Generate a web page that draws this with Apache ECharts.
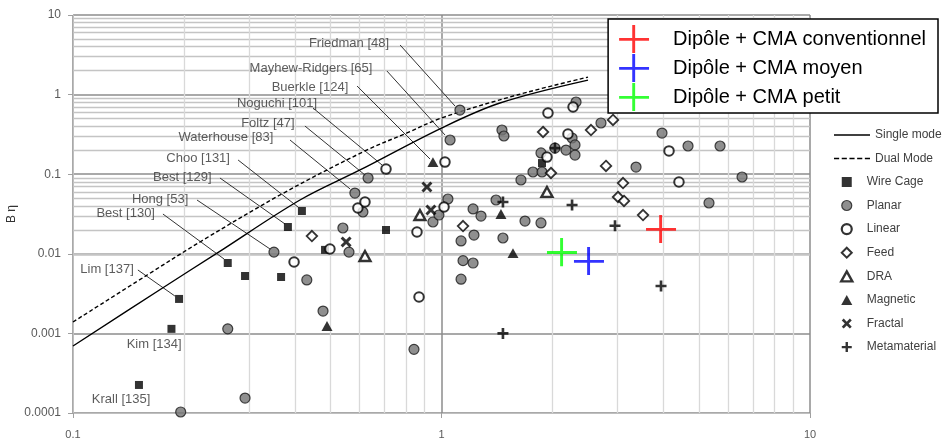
<!DOCTYPE html>
<html><head><meta charset="utf-8">
<script src="https://cdn.jsdelivr.net/npm/echarts@6/dist/echarts.min.js"></script>
<style>html,body{margin:0;padding:0;background:#fff}#c{width:946px;height:441px}</style>
</head><body><div id="c"></div>
<script>
// ---- data ----
const xRange = [0.1, 10];
const yRange = [0.0001, 10];
const minorXMultipliers = [2, 3, 4, 5, 6, 7, 8, 9];

const singleMode = [[0.1,0.000695],[0.175,0.00372],[0.246,0.0102],[0.413,0.0474],[0.601,0.113],[1.0,0.38],[1.441,0.784],[2.498,1.52]];
const dualMode = [[0.1,0.00139],[0.159,0.00542],[0.225,0.0148],[0.372,0.0577],[0.62,0.196],[0.806,0.33],[1.0,0.508],[1.603,0.989],[2.498,1.66]];

const wireCage = [[0.151,0.000225],[0.185,0.00114],[0.194,0.00271],[0.263,0.00766],[0.293,0.00526],[0.367,0.00511],[0.383,0.0217],[0.418,0.0345],[0.483,0.0112],[0.707,0.0199],[1.874,0.138]];
const planar = [[0.196,0.000103],[0.293,0.000154],[0.263,0.00114],[0.351,0.0105],[0.431,0.00469],[0.477,0.00191],[0.540,0.0211],[0.561,0.0105],[0.582,0.058],[0.612,0.0335],[0.632,0.0896],[0.842,0.00063],[0.948,0.0251],[0.984,0.0307],[1.041,0.0488],[1.055,0.269],[1.122,0.640],[1.13,0.0145],[1.225,0.0172],[1.144,0.0082],[1.218,0.00766],[1.13,0.0048],[1.218,0.0366],[1.28,0.0298],[1.406,0.0474],[1.468,0.0158],[1.459,0.359],[1.477,0.302],[1.685,0.0258],[1.862,0.0244],[1.643,0.0846],[1.771,0.1066],[1.874,0.1066],[1.862,0.185],[2.032,0.213],[2.177,0.201],[2.261,0.285],[2.303,0.233],[2.303,0.174],[2.318,0.807],[2.709,0.44],[3.372,0.123],[3.966,0.329],[4.667,0.226],[5.70,0.226],[6.54,0.0922],[5.32,0.0435]];
const linear = [[0.398,0.00789],[0.498,0.0115],[0.593,0.0376],[0.620,0.0447],[0.707,0.116],[0.858,0.0188],[0.869,0.00287],[1.016,0.0387],[1.022,0.142],[1.933,0.164],[1.945,0.587],[2.204,0.320],[2.275,0.699],[4.144,0.196],[4.41,0.0798]];
const feed = [[0.445,0.0167],[1.144,0.0223],[1.886,0.339],[1.982,0.1035],[2.545,0.359],[2.795,0.127],[2.92,0.48],[3.013,0.0517],[3.109,0.0775],[3.128,0.0461],[3.523,0.0307]];
const dra = [[0.620,0.00938],[0.874,0.0307],[1.933,0.0598]];
const magnetic = [[0.489,0.00124],[0.948,0.142],[1.45,0.0316],[1.563,0.0102]];
const fractal = [[0.551,0.0141],[0.913,0.0691],[0.936,0.0355]];
const metamaterial = [[1.468,0.001],[1.468,0.0447],[2.032,0.213],[2.261,0.041],[2.957,0.0225],[3.942,0.00394]];

const cmaConventionnel = [[3.942,0.0205]];
const cmaMoyen = [[2.513,0.00812]];
const cmaPetit = [[2.123,0.0105]];

// annotation text, label centre [x,y], leader line start, leader line end
const annotationNames = ['Friedman [48]','Mayhew-Ridgers [65]','Buerkle [124]','Noguchi [101]','Foltz [47]','Waterhouse [83]','Choo [131]','Best [129]','Hong [53]','Best [130]','Lim [137]','Kim [134]','Krall [135]'];
const annotationAt = [[0.561,4.45],[0.4425,2.16],[0.4396,1.246],[0.3578,0.784],[0.338,0.44],[0.260,0.293],[0.2186,0.16],[0.198,0.0922],[0.1723,0.0488],[0.139,0.0326],[0.1237,0.00644],[0.166,0.000736],[0.135,0.00015]];
const leaderFrom = [[0.772,4.2],[0.711,1.98],[0.590,1.282],[0.448,0.679],[0.426,0.403],[0.388,0.269],[0.2805,0.1508],[0.2505,0.0896],[0.217,0.0474],[0.1754,0.0316],[0.150,0.00626],null,null];
const leaderTo = [[1.088,0.719],[1.022,0.311],[0.931,0.155],[0.6896,0.1305],[0.620,0.0977],[0.565,0.0652],[0.408,0.0387],[0.376,0.0237],[0.3424,0.0115],[0.257,0.0086],[0.189,0.00295],null,null];

// ---- styling ----
const FONT = 'Liberation Sans';
const P_SQUARE = 'path://M0,0H10V10H0Z';
const P_DIAMOND = 'path://M5,0L10,5L5,10L0,5Z';
const P_TRI = 'path://M5,0L10,9H0Z';
const P_X = 'path://M0,1.9L1.9,0L5,3.1L8.1,0L10,1.9L6.9,5L10,8.1L8.1,10L5,6.9L1.9,10L0,8.1L3.1,5Z';
const P_PLUS = 'path://M3.8,0H6.2V3.8H10V6.2H6.2V10H3.8V6.2H0V3.8H3.8Z';
const P_CROSS = 'path://M13.6,0H16.6V13.4H31V16.4H16.6V29H13.6V16.4H0V13.4H13.6Z';
const P_LINE = 'path://M0,0H36V1.3H0Z';
const P_DASH = 'path://M0,0H5V1.3H0Z M7.5,0H12.5V1.3H7.5Z M15,0H20V1.3H15Z M22.5,0H27.5V1.3H22.5Z M30,0H35V1.3H30Z';

function decadeMinors(lo, hi) {
  const out = [];
  for (let e = Math.round(Math.log10(lo)); e < Math.round(Math.log10(hi)); e++) {
    minorXMultipliers.forEach(m => out.push(Number((m * Math.pow(10, e)).toPrecision(3))));
  }
  return out;
}
const minorX = decadeMinors(xRange[0], xRange[1]);
const minorY = decadeMinors(yRange[0], yRange[1]);

function scatter(name, data, symbol, size, itemStyle, z) {
  return { name, type: 'scatter', data, symbol, symbolSize: size, symbolKeepAspect: true,
    itemStyle, z: z || 3, silent: true, animation: false };
}
const fmt = v => String(parseFloat(Number(v).toPrecision(4)));

const option = {
  backgroundColor: '#fff',
  animation: false,
  textStyle: { fontFamily: FONT },
  grid: { left: 73, right: 136, top: 15, bottom: 28, containLabel: false, outerBoundsMode: 'none' },
  xAxis: {
    type: 'log', logBase: 10, min: xRange[0], max: xRange[1], splitNumber: 2,
    axisLine: { show: true, lineStyle: { color: '#bfbfbf', width: 1 } },
    axisTick: { show: true, length: 5, lineStyle: { color: '#a0a0a0' } },
    axisLabel: { formatter: fmt, color: '#595959', fontSize: 11, margin: 16, fontFamily: FONT },
    splitLine: { show: true, lineStyle: { color: '#8c8c8c', width: 1.5 } }
  },
  yAxis: {
    type: 'log', logBase: 10, min: yRange[0], max: yRange[1], splitNumber: 5,
    name: 'B η', nameLocation: 'middle', nameGap: 55, nameMoveOverlap: false,
    nameTextStyle: { color: '#333', fontSize: 12, fontFamily: FONT },
    axisLine: { show: true, lineStyle: { color: '#bfbfbf', width: 1 } },
    axisTick: { show: true, length: 5, lineStyle: { color: '#a0a0a0' } },
    axisLabel: { formatter: fmt, color: '#595959', fontSize: 12, margin: 12, fontFamily: FONT },
    splitLine: { show: true, lineStyle: { color: '#8c8c8c', width: 1.5 } }
  },
  legend: [
    {
      data: ['Dipôle + CMA conventionnel', 'Dipôle + CMA moyen', 'Dipôle + CMA petit'],
      orient: 'vertical', right: 8, top: 19, selectedMode: false,
      backgroundColor: '#fff', borderColor: '#000', borderWidth: 1.5, borderRadius: 0,
      padding: [6, 12, 2, 11], itemWidth: 68, itemHeight: 28, itemGap: 1, z: 10,
      textStyle: { fontSize: 20, color: '#000', fontFamily: FONT }
    },
    {
      data: [
        { name: 'Single mode', icon: P_LINE, itemStyle: { color: '#000', borderWidth: 0 } },
        { name: 'Dual Mode', icon: P_DASH, itemStyle: { color: '#000', borderWidth: 0 } }
      ],
      orient: 'vertical', left: 834, top: 129, selectedMode: false, padding: 0,
      itemWidth: 36, itemHeight: 10, itemGap: 11.5,
      textStyle: { fontSize: 12, color: '#404040', fontFamily: FONT }
    },
    {
      data: [
        { name: 'Wire Cage', icon: P_SQUARE },
        { name: 'Planar', icon: 'circle', itemStyle: { borderWidth: 1.2 } },
        { name: 'Linear', icon: 'circle', itemStyle: { borderWidth: 2.2 } },
        { name: 'Feed', icon: P_DIAMOND, itemStyle: { borderWidth: 2 } },
        { name: 'DRA', icon: P_TRI, itemStyle: { borderWidth: 2.4 } },
        { name: 'Magnetic', icon: P_TRI },
        { name: 'Fractal', icon: P_X },
        { name: 'Metamaterial', icon: P_PLUS }
      ],
      orient: 'vertical', left: 840, top: 176, selectedMode: false, padding: 0,
      itemWidth: 30, itemHeight: 10, itemGap: 11.5,
      textStyle: { fontSize: 12, color: '#404040', fontFamily: FONT }
    }
  ],
  series: [
    {
      name: 'Single mode', type: 'line', data: singleMode, smooth: 0.35, symbol: 'none',
      lineStyle: { color: '#000', width: 1.4 }, itemStyle: { color: '#000' }, z: 2, silent: true,
      markLine: {
        z: 1, silent: true, symbol: ['none', 'none'], label: { show: false }, animation: false,
        emphasis: { disabled: true },
        data: minorY.map(v => ({ yAxis: v, lineStyle: { color: '#c4c4c4', width: 1.3, type: 'solid' } }))
          .concat(minorX.map(v => ({ xAxis: v, lineStyle: { color: '#d9d9d9', width: 1.3, type: 'solid' } })))
      }
    },
    {
      name: 'Dual Mode', type: 'line', data: dualMode, smooth: 0.35, symbol: 'none',
      lineStyle: { color: '#000', width: 1.4, type: [4, 2.5] }, itemStyle: { color: '#000' }, z: 2, silent: true
    },
    scatter('Planar', planar, 'circle', 10, { color: '#737373', borderColor: '#1a1a1a', borderWidth: 1.2 }),
    scatter('Wire Cage', wireCage, P_SQUARE, 8, { color: '#000' }),
    scatter('Linear', linear, 'circle', 9.5, { color: '#fff', borderColor: '#000', borderWidth: 2 }),
    scatter('Feed', feed, P_DIAMOND, 10.5, { color: '#fff', borderColor: '#000', borderWidth: 1.8 }),
    scatter('DRA', dra, P_TRI, 11, { color: '#fff', borderColor: '#000', borderWidth: 2.4 }),
    scatter('Magnetic', magnetic, P_TRI, 11, { color: '#000' }),
    scatter('Fractal', fractal, P_X, 11, { color: '#000' }),
    scatter('Metamaterial', metamaterial, P_PLUS, 11, { color: '#000' }),
    scatter('Dipôle + CMA conventionnel', cmaConventionnel, P_CROSS, 30, { color: '#ff0000' }, 5),
    scatter('Dipôle + CMA moyen', cmaMoyen, P_CROSS, 30, { color: '#0000ff' }, 5),
    scatter('Dipôle + CMA petit', cmaPetit, P_CROSS, 30, { color: '#00ff00' }, 5),
    {
      name: 'leaders', type: 'lines', coordinateSystem: 'cartesian2d', silent: true, z: 2,
      symbol: ['none', 'none'], animation: false,
      lineStyle: { color: '#333', width: 1, opacity: 1, curveness: 0 },
      data: leaderFrom.map((f, i) => f ? { coords: [f, leaderTo[i]] } : null).filter(Boolean)
    },
    {
      name: 'annotations', type: 'scatter', silent: true, z: 4, animation: false,
      symbol: 'circle', symbolSize: 1, itemStyle: { color: 'rgba(0,0,0,0)' },
      data: annotationNames.map((n, i) => ({ name: n, value: annotationAt[i] })),
      label: { show: true, formatter: '{b}', position: 'inside', color: '#333', fontSize: 13, fontFamily: FONT }
    }
  ]
};
const chart = echarts.init(document.getElementById('c'), null, { renderer: 'canvas' });
chart.setOption(option);
</script></body></html>
